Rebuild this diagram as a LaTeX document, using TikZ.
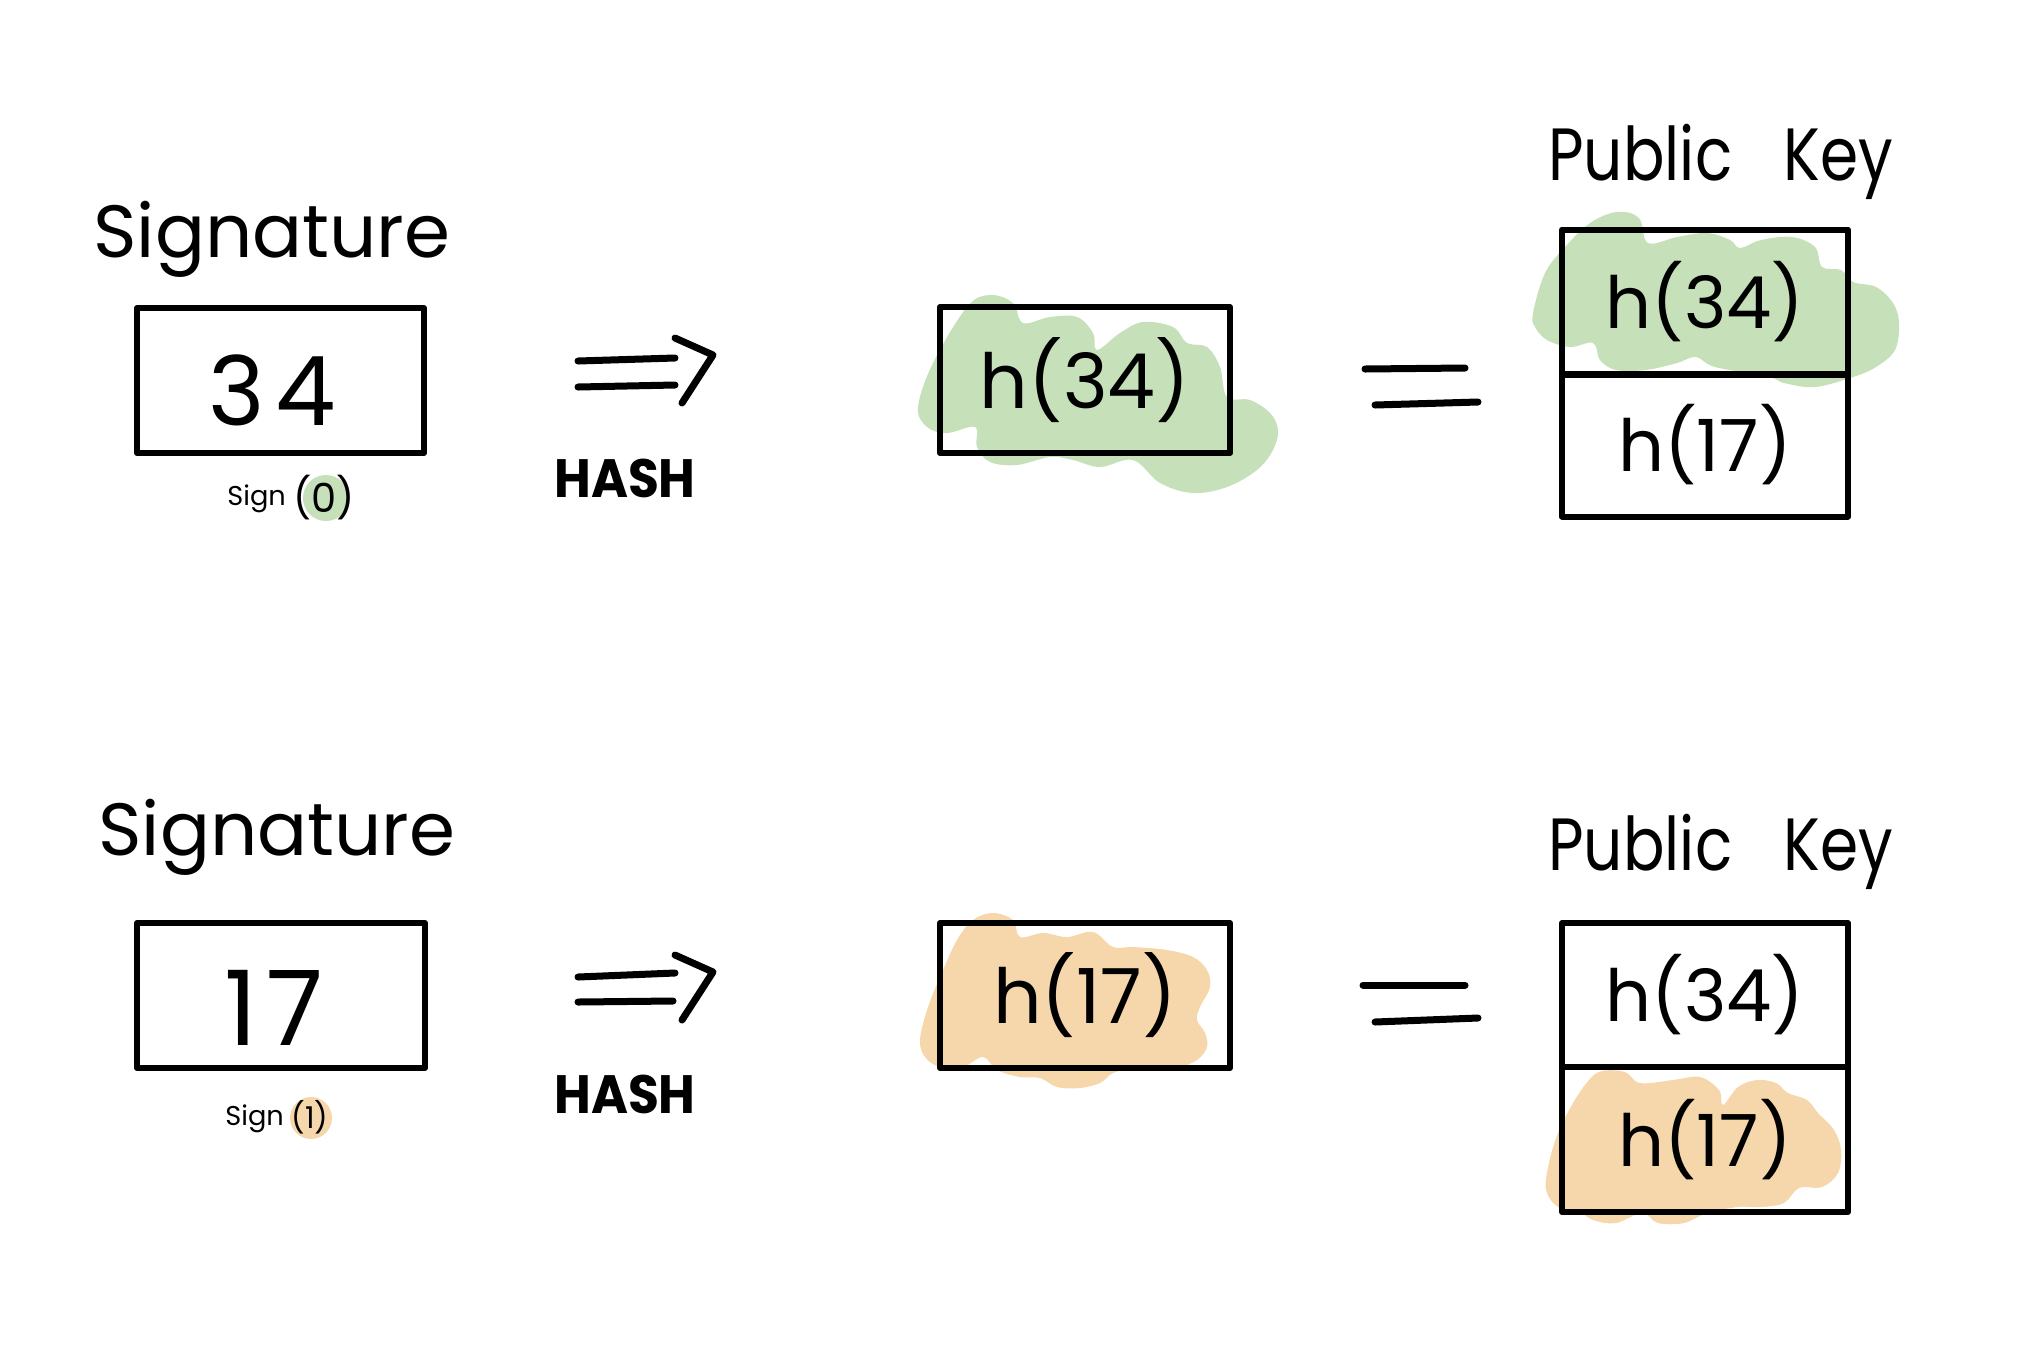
\documentclass[tikz,border=0pt]{standalone}
\usepackage{fontspec}
\setmainfont{Poppins}
\usepackage{graphicx}
\definecolor{hlgreen}{HTML}{C6E1BA}
\definecolor{hlorange}{HTML}{F6D7AB}
\begin{document}
\begin{tikzpicture}[x=0.5pt,y=-0.5pt,
  frame/.style={draw, line width=3pt, inner sep=0pt, line join=round},
  sigbox/.style={frame, minimum width=143.5pt, minimum height=72.5pt},
  hbox/.style={frame, minimum width=145pt, minimum height=73pt, font=\fontsize{38}{40}\selectfont},
  pkcell/.style={frame, minimum width=143pt, minimum height=72pt, font=\fontsize{36}{40}\selectfont},
  title/.style={anchor=base west, inner sep=0pt, font=\fontsize{37}{40}\selectfont},
  small/.style={anchor=base west, inner sep=0pt, font=\fontsize{13.6}{16}\selectfont},
  hashlbl/.style={inner sep=0pt, font=\fontsize{27}{30}\selectfont\bfseries},
  pen/.style={line width=3.5pt, line cap=round, line join=round},
  dot/.style={circle, inner sep=0pt, draw=none}
]
\useasboundingbox (0,0) rectangle (2022,1350);

% ---------- highlight blobs ----------
\fill[hlgreen] plot[smooth cycle, tension=0.6] coordinates {
 (918,407) (933,363) (967,307) (990,295) (1013,303) (1023,323) (1050,317)
 (1077,317) (1093,333) (1097,350) (1120,333) (1143,322) (1173,327) (1187,343)
 (1207,347) (1220,367) (1227,397) (1250,400) (1270,413) (1278,430) (1273,450)
 (1257,470) (1227,487) (1193,493) (1160,483) (1133,460) (1100,467) (1073,460)
 (1050,457) (1017,465) (990,462) (977,447) (975,427) (947,433) (927,427)};
\fill[hlgreen] plot[smooth cycle, tension=0.6] coordinates {
 (1533,313) (1545,273) (1565,247) (1590,223) (1617,212) (1639,218) (1648,243)
 (1677,237) (1707,233) (1730,240) (1740,248) (1761,240) (1792,237) (1815,247)
 (1822,267) (1841,270) (1853,282) (1876,287) (1893,303) (1899,323) (1895,350)
 (1876,367) (1853,377) (1815,387) (1784,383) (1769,377) (1715,367) (1696,357)
 (1677,363) (1646,370) (1616,370) (1600,360) (1593,343) (1570,347) (1547,340)
 (1535,327)};
\fill[hlorange] plot[smooth cycle, tension=0.6] coordinates {
 (920,1040) (927,1010) (940,977) (957,940) (973,920) (993,913) (1013,920)
 (1020,937) (1043,933) (1067,937) (1093,932) (1113,947) (1133,947) (1167,950)
 (1193,957) (1207,970) (1210,987) (1200,1007) (1197,1020) (1205,1033)
 (1207,1047) (1197,1060) (1177,1068) (1153,1070) (1133,1068) (1113,1073)
 (1100,1083) (1080,1088) (1057,1087) (1040,1078) (1020,1077) (997,1070)
 (983,1057) (963,1067) (940,1067) (925,1057)};
\fill[hlorange] plot[smooth cycle, tension=0.6] coordinates {
 (1546,1190) (1549,1163) (1558,1133) (1573,1103) (1589,1080) (1602,1071)
 (1625,1072) (1640,1083) (1673,1080) (1700,1077) (1719,1090) (1723,1105)
 (1738,1087) (1757,1080) (1776,1083) (1788,1093) (1807,1100) (1818,1113)
 (1834,1130) (1841,1150) (1838,1173) (1822,1187) (1799,1188) (1784,1203)
 (1761,1207) (1738,1207) (1707,1213) (1684,1223) (1658,1223) (1642,1213)
 (1616,1223) (1593,1220) (1577,1210) (1558,1207)};

% ---------- top row ----------
\node[title] (sigtitle1) at (93,257) {Signature};
\node[sigbox] (sig1) at (280.5,380.5) {};
\node[inner sep=0pt, font=\fontsize{48}{50}\selectfont] (num1) at (272,390) {3\hspace{5pt}4};
\node[small] (sign1) at (227,505) {Sign};
\node[dot, fill=hlgreen, minimum width=22pt, minimum height=23pt] (c0) at (326,498) {};
\node[inner sep=0pt, font=\fontsize{20}{22}\selectfont] (arg0) at (324,498) {(0)};

\draw[pen] (578,361) -- (675,358);
\draw[pen] (578,387) -- (675,385);
\draw[pen] (675,338) -- (713,355) -- (682,403);
\node[hashlbl] (hash1) at (625,478) {\scalebox{0.93}[1]{HASH}};

\node[hbox] (hb1) at (1085,380) {h(34)};

\draw[pen] (1365,369) -- (1465,368);
\draw[pen] (1375,405) -- (1478,402);

\node[title] (pktitle1) at (1548,180) {\scalebox{0.83}[1]{Public\hspace{31pt}Key}};
\node[pkcell, minimum height=72.5pt] (pk1a) at (1705,302) {h(34)};
\node[pkcell, minimum height=71.5pt] (pk1b) at (1705,445) {h(17)};

% ---------- bottom row ----------
\node[title] (sigtitle2) at (98,855) {Signature};
\node[sigbox, minimum width=144pt] (sig2) at (281,995.5) {};
\node[inner sep=0pt, font=\fontsize{52}{54}\selectfont] (num2) at (274,1008) {1\hspace{4pt}7};
\node[small] (sign2) at (225,1125) {Sign};
\node[dot, fill=hlorange, minimum width=19pt, minimum height=21pt] (c1) at (311,1118) {};
\node[inner sep=0pt, font=\fontsize{15}{17}\selectfont] (arg1) at (310,1117) {(1)};

\draw[pen] (578,977) -- (675,973);
\draw[pen] (578,1002) -- (673,1001);
\draw[pen] (675,955) -- (713,972) -- (682,1020);
\node[hashlbl] (hash2) at (625,1094) {\scalebox{0.93}[1]{HASH}};

\node[hbox, minimum height=72.5pt] (hb2) at (1085,995.5) {h(17)};

\draw[pen] (1363,985) -- (1465,985);
\draw[pen] (1375,1022) -- (1478,1018);

\node[title] (pktitle2) at (1548,870) {\scalebox{0.83}[1]{Public\hspace{31pt}Key}};
\node[pkcell] (pk2a) at (1705,995) {h(34)};
\node[pkcell, minimum height=72.5pt] (pk2b) at (1705,1139.5) {h(17)};
\end{tikzpicture}
\end{document}
